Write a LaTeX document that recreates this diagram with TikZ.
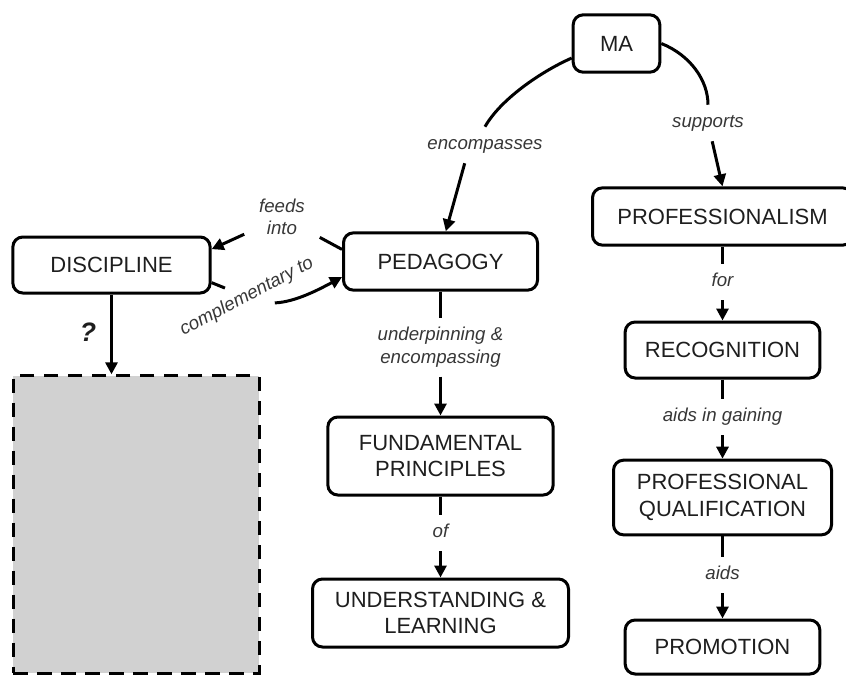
\documentclass[tikz,border=0pt]{standalone}
\usepackage{fontspec}
\setmainfont{Liberation Sans}
\usetikzlibrary{arrows.meta}
\definecolor{blankgray}{RGB}{209,209,209}
\definecolor{txt}{RGB}{30,30,30}
\definecolor{lbl}{RGB}{55,55,55}
\begin{document}
\begin{tikzpicture}[x=0.75pt,y=-0.75pt,
  concept/.style={draw=black, line width=2.25pt, rounded corners=7.5pt, fill=white,
    align=center, text=txt, font=\fontsize{16.5}{20}\selectfont, inner sep=0pt},
  link/.style={font=\itshape\fontsize{14}{16.8}\selectfont, text=lbl, align=center,
    inner xsep=4pt, inner ysep=7pt},
  oneline/.style={text height=10pt, text depth=3pt},
  conn/.style={line width=2.25pt, draw=black},
  arr/.style={conn, -{Triangle[length=9pt,width=9pt]}},
]
\useasboundingbox (0,0) rectangle (846,675);
\clip (0,0) rectangle (846,675);

% concepts
\node[concept, minimum width=65pt, minimum height=43pt] (ma) at (616.5,43.5) {MA};
\node[concept, minimum width=195pt, minimum height=43pt] (prof) at (722.5,216.5) {PROFESSIONALISM};
\node[concept, minimum width=145.5pt, minimum height=43pt] (ped) at (440.5,261.5) {PEDAGOGY};
\node[concept, minimum width=148pt, minimum height=42pt] (disc) at (111.5,265) {DISCIPLINE};
\node[concept, minimum width=169pt, minimum height=58.5pt] (fund) at (440.5,456) {FUNDAMENTAL\\PRINCIPLES};
\node[concept, minimum width=192pt, minimum height=51pt] (und) at (440.5,613) {UNDERSTANDING \&\\LEARNING};
\node[concept, minimum width=146pt, minimum height=42pt] (rec) at (722.5,350) {RECOGNITION};
\node[concept, minimum width=163.5pt, minimum height=56pt] (pq) at (722.5,497.5) {PROFESSIONAL\\QUALIFICATION};
\node[concept, minimum width=146pt, minimum height=40.5pt] (prom) at (722.5,647) {PROMOTION};
\node[draw=black, line width=2.25pt, dash pattern=on 11pt off 7pt, fill=blankgray,
  minimum width=184.5pt, minimum height=223pt, inner sep=0pt] (blank) at (136,524.5) {};

% linking phrases
\node[link, oneline] (encl) at (485,145) {encompasses};
\node[link, oneline] (supl) at (708,123) {supports};
\node[link, inner xsep=11pt] (feeds) at (282,217) {feeds\\into};
\node[link, oneline, rotate=28] (comp) at (247,297) {complementary to};
\node[link] (under) at (440.5,347) {underpinning \&\\encompassing};
\node[link, oneline] (of) at (440.5,533) {of};
\node[link, oneline] (for) at (722.5,282) {for};
\node[link, oneline] (aig) at (722.5,417) {aids in gaining};
\node[link, oneline] (aids) at (722.5,575) {aids};
\node[font=\bfseries\itshape\fontsize{20}{24}\selectfont, text=txt] (q) at (88,332) {?};

% connectors: MA at the top
\draw[conn] (ma.198) .. controls (540,72) and (500,100) .. (encl.north);
\draw[arr] (encl.222) -- (ped.80);
\draw[conn] (ma.east) .. controls (690,55) and (708,80) .. (supl.north);
\draw[arr] (supl) -- (prof.north);

% between DISCIPLINE and PEDAGOGY
\draw[conn] (ped.173) -- (feeds);
\draw[arr] (feeds) -- (disc.9);
\draw[conn] (disc.350) -- (comp);
\draw[arr] (comp.-40) .. controls (295,302) and (318,290) .. (ped.189);
\draw[arr] (disc.south) -- (disc.south |- blank.north);

% middle column
\draw[conn] (ped.south) -- (under.north);
\draw[arr] (under.south) -- (fund.north);
\draw[conn] (fund.south) -- (of.north);
\draw[arr] (of.south) -- (und.north);

% right column
\draw[conn] (prof.south) -- (for.north);
\draw[arr] (for.south) -- (rec.north);
\draw[conn] (rec.south) -- (aig.north);
\draw[arr] (aig.south) -- (pq.north);
\draw[conn] (pq.south) -- (aids.north);
\draw[arr] (aids.south) -- (prom.north);
\end{tikzpicture}
\end{document}
